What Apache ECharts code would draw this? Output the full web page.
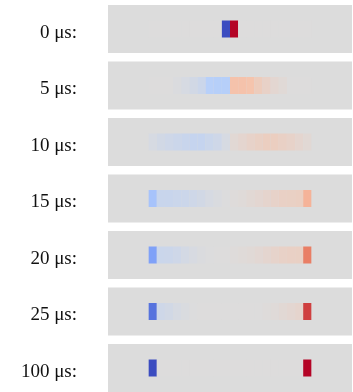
<!DOCTYPE html>
<html>
<head>
<meta charset="utf-8">
<script src="https://cdn.jsdelivr.net/npm/echarts@6/dist/echarts.min.js"></script>
<style>
  html, body { margin: 0; padding: 0; background: #ffffff; }
  #chart { width: 353px; height: 392px; }
</style>
</head>
<body>
<div id="chart"></div>
<script>
// Snapshot labels, one per row
const timeLabels = ['0 μs:', '5 μs:', '10 μs:', '15 μs:', '20 μs:', '25 μs:', '100 μs:'];

// Charge density per cell (20 cells across the gap), negative = blue, positive = red
const density0us   = [0, 0, 0, 0, 0, 0, 0, 0, 0, -1, 1, 0, 0, 0, 0, 0, 0, 0, 0, 0];
const density5us   = [0, 0, 0, -0.02, -0.05, -0.08, -0.12, -0.25, -0.26, -0.26, 0.26, 0.26, 0.25, 0.17, 0.11, 0.06, 0.03, 0, 0, 0];
const density10us  = [-0.05, -0.08, -0.1, -0.12, -0.14, -0.16, -0.16, -0.13, -0.1, -0.05, 0.04, 0.07, 0.1, 0.13, 0.15, 0.15, 0.12, 0.1, 0.07, 0.04];
const density15us  = [-0.35, -0.14, -0.14, -0.13, -0.12, -0.1, -0.08, -0.05, -0.03, -0.01, 0.01, 0.02, 0.04, 0.06, 0.08, 0.1, 0.12, 0.13, 0.14, 0.35];
const density20us  = [-0.58, -0.13, -0.12, -0.1, -0.07, -0.04, -0.02, -0.01, 0, 0, 0.01, 0.02, 0.03, 0.05, 0.07, 0.09, 0.11, 0.12, 0.13, 0.62];
const density25us  = [-0.82, -0.1, -0.08, -0.05, -0.03, -0.01, 0, 0, 0, 0, 0, 0, 0, 0, 0.01, 0.02, 0.04, 0.06, 0.08, 0.84];
const density100us = [-1, 0, 0, 0, 0, 0, 0, 0, 0, 0, 0, 0, 0, 0, 0, 0, 0, 0, 0, 1];

const densityRows = [density0us, density5us, density10us, density15us, density20us, density25us, density100us];

// Diverging cool-warm palette from -1 (blue) through grey to +1 (red)
const coolwarm = ['#3b4cc0', '#6282ea', '#8db0fe', '#b8d0f9', '#dddcdc',
                  '#f5c4ad', '#f49a7b', '#de604d', '#b40426'];

const PANEL_TOP = 5;
const PANEL_STEP = 56.5;
const PANEL_HEIGHT = 48;
const CELL_HALF = 0.354;   // half cell height in y-axis units (axis spans -1..1)

function renderCell(params, api) {
  const i = api.value(0);
  const topLeft = api.coord([i, CELL_HALF]);
  const bottomRight = api.coord([i + 1, -CELL_HALF]);
  return {
    type: 'rect',
    shape: {
      x: topLeft[0],
      y: topLeft[1],
      width: bottomRight[0] - topLeft[0],
      height: bottomRight[1] - topLeft[1]
    },
    style: { fill: api.visual('color') }
  };
}

const grid = [], xAxis = [], yAxis = [], series = [];
densityRows.forEach((row, k) => {
  grid.push({
    left: 108, right: 1,
    top: PANEL_TOP + k * PANEL_STEP,
    height: PANEL_HEIGHT,
    show: true,
    backgroundColor: '#dcdcdc',
    borderWidth: 0
  });
  xAxis.push({
    gridIndex: k, type: 'value', min: -5, max: 25, show: false
  });
  yAxis.push({
    gridIndex: k, type: 'value', min: -1, max: 1,
    name: '{t|' + timeLabels[k] + '}',
    nameLocation: 'middle',
    nameRotate: 0,
    nameGap: 31,
    nameTextStyle: {
      align: 'right',
      verticalAlign: 'middle',
      rich: {
        t: {
          fontFamily: 'Liberation Serif',
          fontSize: 19,
          color: '#111111',
          padding: [8, 0, 0, 0]
        }
      }
    },
    axisLine: { show: false },
    axisTick: { show: false },
    axisLabel: { show: false },
    splitLine: { show: false }
  });
  series.push({
    type: 'custom',
    xAxisIndex: k,
    yAxisIndex: k,
    renderItem: renderCell,
    encode: { x: 0, y: 1 },
    data: row.map((v, i) => [i, v]),
    silent: true
  });
});

const chart = echarts.init(document.getElementById('chart'), null, { renderer: 'canvas' });
chart.setOption({
  animation: false,
  backgroundColor: '#ffffff',
  grid, xAxis, yAxis, series,
  visualMap: {
    type: 'continuous',
    show: false,
    min: -1,
    max: 1,
    dimension: 1,
    inRange: { color: coolwarm }
  }
});
</script>
</body>
</html>
